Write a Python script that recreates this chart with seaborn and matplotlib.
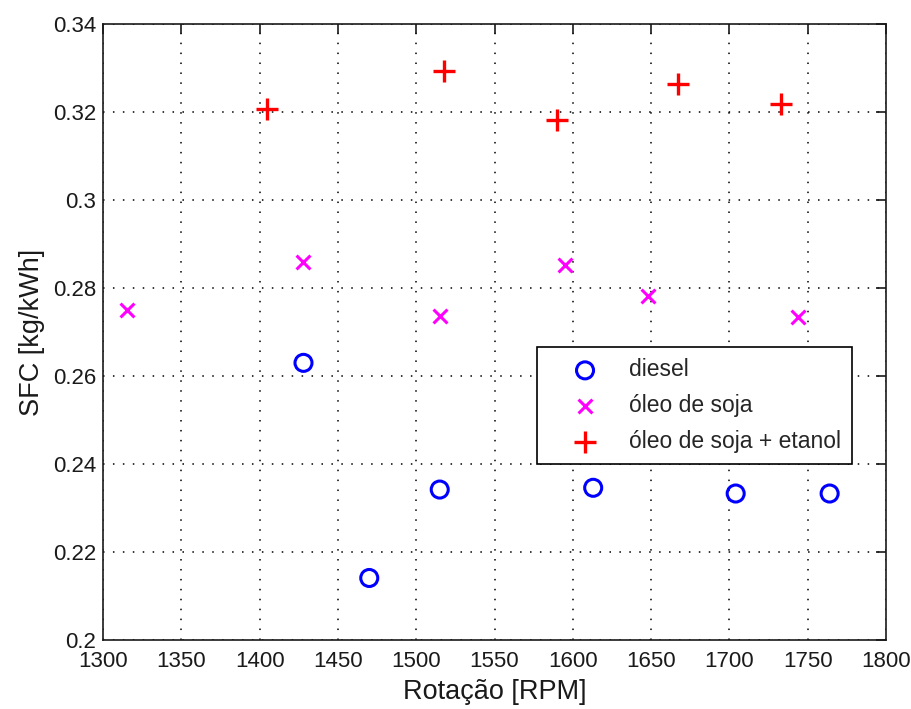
import matplotlib
matplotlib.use('Agg')
import matplotlib.pyplot as plt
import seaborn as sns

# RPM / SFC values
rpm_diesel = [1428, 1470, 1515, 1613, 1704, 1764]
sfc_diesel = [0.2630, 0.2141, 0.2342, 0.2346, 0.2333, 0.2333]

rpm_soja = [1315, 1428, 1515, 1595, 1648, 1744]
sfc_soja = [0.2750, 0.2860, 0.2737, 0.2852, 0.2782, 0.2735]

rpm_etanol = [1405, 1518, 1590, 1667, 1733]
sfc_etanol = [0.3207, 0.3293, 0.3182, 0.3264, 0.3219]

labels = ['diesel', 'óleo de soja', 'óleo de soja + etanol']
x_ticks = [1300, 1350, 1400, 1450, 1500, 1550, 1600, 1650, 1700, 1750, 1800]
y_ticks = [0.2, 0.22, 0.24, 0.26, 0.28, 0.3, 0.32, 0.34]
y_ticklabels = ['0.2', '0.22', '0.24', '0.26', '0.28', '0.3', '0.32', '0.34']

sns.set_style('white')
plt.rcParams['font.family'] = ['Liberation Sans', 'DejaVu Sans']

fig = plt.figure(figsize=(9.12, 7.09), dpi=100)
ax = fig.add_axes([0.113, 0.0973, 0.8585, 0.8687])

sns.scatterplot(x=rpm_diesel, y=sfc_diesel, marker='o', s=150,
                facecolors='none', edgecolors='blue', linewidth=2.2,
                label=labels[0], ax=ax, zorder=3)
sns.scatterplot(x=rpm_soja, y=sfc_soja, marker='x', s=100,
                color='magenta', linewidth=2.2,
                label=labels[1], ax=ax, zorder=3)
sns.scatterplot(x=rpm_etanol, y=sfc_etanol, marker='+', s=240,
                color='red', linewidth=2.4,
                label=labels[2], ax=ax, zorder=3)

ax.set_xlim(1300, 1800)
ax.set_ylim(0.2, 0.34)
ax.set_xticks(x_ticks)
ax.set_yticks(y_ticks)
ax.set_yticklabels(y_ticklabels)
ax.tick_params(direction='in', length=7, width=1.2, top=True, right=True,
               labelsize=16, colors='#1a1a1a')
ax.tick_params(axis='x', pad=8)
ax.tick_params(axis='y', pad=5)
ax.grid(True, color='black', linestyle=(0, (1, 5.5)), linewidth=1.1)
for sp in ax.spines.values():
    sp.set_color('#1a1a1a')
    sp.set_linewidth(1.2)

ax.set_xlabel('Rotação [RPM]', fontsize=19.5, color='#1a1a1a', labelpad=5)
ax.set_ylabel('SFC [kg/kWh]', fontsize=19.5, color='#1a1a1a', labelpad=6)

leg = ax.legend(loc='lower right', bbox_to_anchor=(0.9566, 0.2857),
                fontsize=16.5, frameon=True, fancybox=False, edgecolor='black',
                framealpha=1, borderpad=0.5, labelspacing=0.55,
                handletextpad=0.3, handlelength=3.2, borderaxespad=0)
leg.get_frame().set_linewidth(1.2)

fig.savefig('out.png', dpi=100)
